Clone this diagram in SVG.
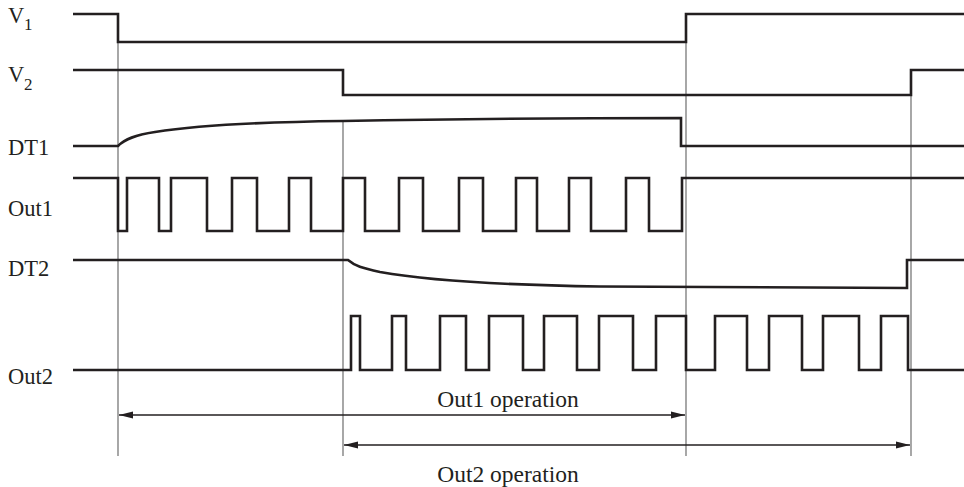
<svg xmlns="http://www.w3.org/2000/svg" width="964" height="487" viewBox="0 0 964 487">
<style>
.sig{fill:none;stroke:#231f20;stroke-width:2.6;stroke-linejoin:miter}
.guide{fill:none;stroke:#6d6d6d;stroke-width:1.2}
.dim{fill:none;stroke:#231f20;stroke-width:1.3}
text{font-family:'Liberation Serif','Times New Roman','DejaVu Serif',serif;fill:#231f20}
.lbl{font-size:22.5px}
.sub{font-size:17px}
.op{font-size:23.5px;text-anchor:middle}
</style>
<defs>
<marker id="ah" viewBox="0 0 14 8" refX="14" refY="4" markerWidth="14" markerHeight="8" markerUnits="userSpaceOnUse" orient="auto-start-reverse">
<path d="M0,0.5 L14,4 L0,7.5 Z" fill="#231f20"/>
</marker>
</defs>
<rect width="964" height="487" fill="#fff"/>
<g id="connectors">
<line class="guide" x1="118" y1="42" x2="118" y2="456"/>
<line class="guide" x1="343" y1="121" x2="343" y2="456"/>
<line class="guide" x1="686" y1="42" x2="686" y2="456"/>
<line class="guide" x1="911" y1="95" x2="911" y2="456"/>
<line class="dim" x1="119" y1="415" x2="685" y2="415" marker-start="url(#ah)" marker-end="url(#ah)"/>
<line class="dim" x1="344" y1="445" x2="910" y2="445" marker-start="url(#ah)" marker-end="url(#ah)"/>
</g>
<g id="v1">
<text class="lbl" x="8" y="23" font-family="Liberation Serif, serif">V</text><text class="sub" x="24" y="30" font-family="Liberation Serif, serif">1</text>
<path class="sig" d="M73,14 H118 V42 H686 V14 H964"/>
</g>
<g id="v2">
<text class="lbl" x="8" y="82" font-family="Liberation Serif, serif">V</text><text class="sub" x="24" y="90" font-family="Liberation Serif, serif">2</text>
<path class="sig" d="M73,70 H343 V95 H911 V70 H964"/>
</g>
<g id="dt1">
<text class="lbl" x="8" y="155" font-family="Liberation Serif, serif">DT1</text>
<path class="sig" d="M73,146 H118 C125,139 135,135 155,132 C200,125 260,122 343,121 C450,119 560,118 681,118 V146 H964"/>
</g>
<g id="out1">
<text class="lbl" x="8" y="216" font-family="Liberation Serif, serif">Out1</text>
<path class="sig" d="M73,178 H118 V231 H127 V178 H159 V231 H171 V178 H207 V231 H232 V178 H257 V231 H289 V178 H311 V231 H343 V178 H365 V231 H399 V178 H423 V231 H459 V178 H483 V231 H516 V178 H537 V231 H569 V178 H591 V231 H626 V178 H649 V231 H682 V178 H964"/>
</g>
<g id="dt2">
<text class="lbl" x="8" y="276" font-family="Liberation Serif, serif">DT2</text>
<path class="sig" d="M73,260 H348 C355,266 362,268 380,272 C430,281 500,285 600,286.5 L907,288 V260 H964"/>
</g>
<g id="out2">
<text class="lbl" x="8" y="384" font-family="Liberation Serif, serif">Out2</text>
<path class="sig" d="M73,370 H351 V316 H360 V370 H392 V316 H406 V370 H440 V316 H466 V370 H489 V316 H523 V370 H544 V316 H577 V370 H599 V316 H633 V370 H656 V316 H686 V370 H715 V316 H747 V370 H769 V316 H802 V370 H823 V316 H859 V370 H881 V316 H908 V370 H964"/>
</g>
<g id="out1-operation"><text class="op" x="508" y="407" font-family="Liberation Serif, serif">Out1 operation</text></g>
<g id="out2-operation"><text class="op" x="508" y="482" font-family="Liberation Serif, serif">Out2 operation</text></g>
</svg>
